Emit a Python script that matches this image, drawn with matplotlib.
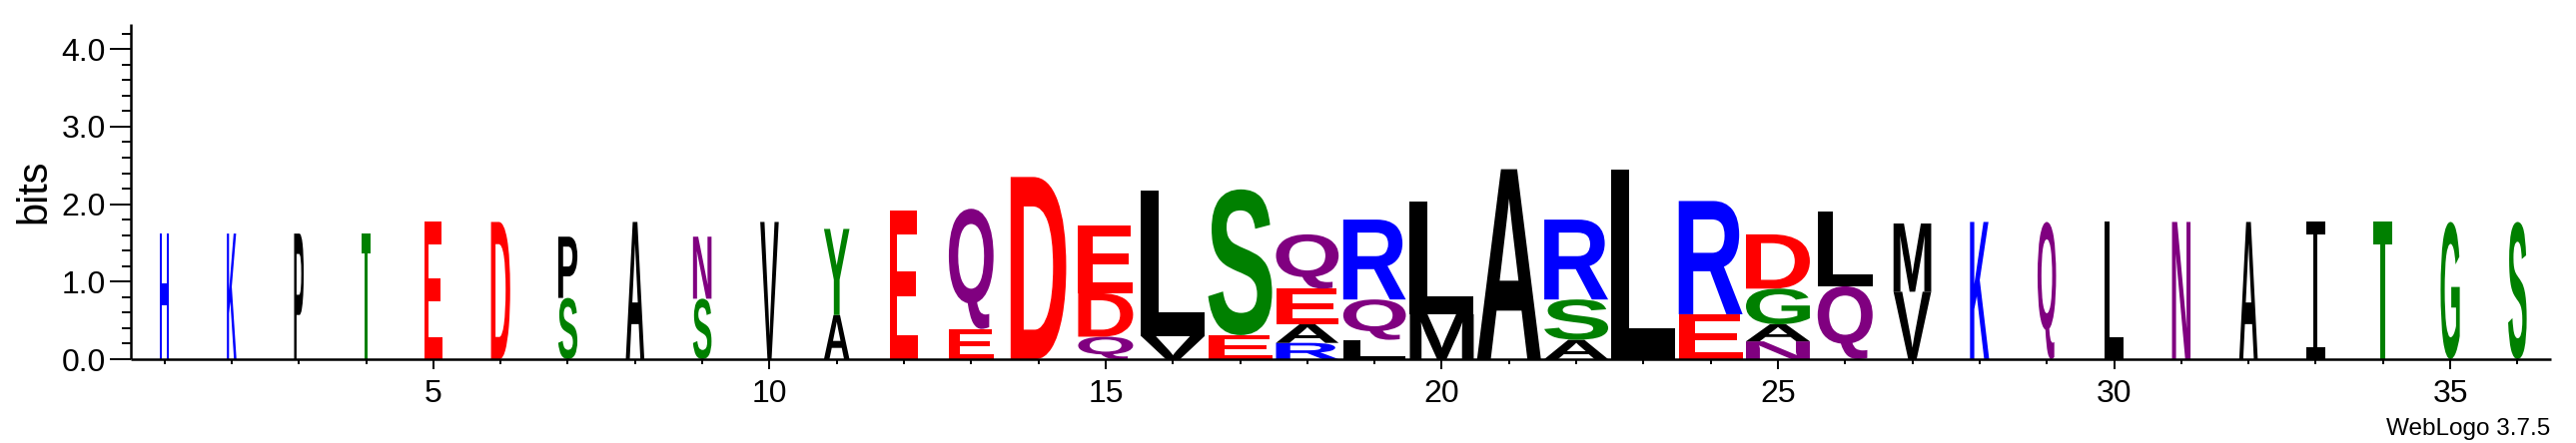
import matplotlib
matplotlib.use("Agg")
import matplotlib.pyplot as plt
from matplotlib.textpath import TextPath
from matplotlib.font_manager import FontProperties
from matplotlib.patches import PathPatch
from matplotlib.path import Path
from matplotlib.transforms import Affine2D
from matplotlib.ticker import MultipleLocator, FixedLocator, FormatStrFormatter

plt.rcParams['font.family'] = ['Liberation Sans', 'DejaVu Sans']

# ---- data: stacks listed bottom -> top ----
positions = list(range(1, 37))
stack_letters = [
    "H", "K", "P", "T", "E", "D", "SP", "A", "SN", "V",
    "AY", "E", "EQ", "D", "QDE", "VL", "ES", "RAEQ", "LQR", "ML",
    "A", "ASR", "L", "ER", "NAGD", "QL", "VM", "K", "Q", "L",
    "N", "A", "I", "T", "G", "S",
]
stack_heights = [
    [1.62], [1.62], [1.62], [1.62], [1.77], [1.77], [0.79, 0.79], [1.77], [0.78, 0.80], [1.77],
    [0.57, 1.11], [1.92], [0.39, 1.55], [2.35], [0.29, 0.56, 0.87], [0.30, 1.88], [0.31, 1.88],
    [0.21, 0.24, 0.46, 0.70], [0.25, 0.52, 1.03], [0.58, 1.45],
    [2.45], [0.25, 0.52, 1.03], [2.45], [0.58, 1.46], [0.23, 0.22, 0.46, 0.70], [0.94, 0.96],
    [0.87, 0.88], [1.77], [1.77], [1.77], [1.77], [1.77], [1.77], [1.77], [1.77], [1.77],
]
stack_width_frac = [
    0.15, 0.15, 0.15, 0.15, 0.29, 0.30, 0.30, 0.29, 0.29, 0.29,
    0.40, 0.44, 0.70, 0.87, 0.86, 1.0, 1.0, 0.98, 0.98, 1.0,
    1.0, 1.0, 1.0, 1.0, 1.0, 0.86, 0.59, 0.30, 0.29, 0.29,
    0.29, 0.29, 0.29, 0.29, 0.30, 0.29,
]
x_tick_labels = [5, 10, 15, 20, 25, 30, 35]
y_tick_labels = [0.0, 1.0, 2.0, 3.0, 4.0]

colors = {}
for c in "GSTYC":
    colors[c] = "#008000"
for c in "NQ":
    colors[c] = "#800080"
for c in "KRH":
    colors[c] = "#0000FF"
for c in "DE":
    colors[c] = "#FF0000"

FULL_W = 0.95
glyph_font = FontProperties(family="Liberation Sans", weight="bold")


def glyph_path(ch):
    if ch == "I":
        # serifed capital I
        bw, bh, sw = 1.0, 0.09, 0.22
        verts = [(0, 0), (bw, 0), (bw, bh), (0.5 + sw / 2, bh), (0.5 + sw / 2, 1 - bh),
                 (bw, 1 - bh), (bw, 1), (0, 1), (0, 1 - bh), (0.5 - sw / 2, 1 - bh),
                 (0.5 - sw / 2, bh), (0, bh), (0, 0)]
        codes = [Path.MOVETO] + [Path.LINETO] * 11 + [Path.CLOSEPOLY]
        return Path(verts, codes)
    return TextPath((0, 0), ch, size=1, prop=glyph_font)


def letter_patch(ch, xc, y0, w, h, color):
    p = glyph_path(ch)
    bb = p.get_extents()
    tr = (Affine2D().translate(-bb.x0, -bb.y0)
          .scale(w / bb.width, h / bb.height)
          .translate(xc - w / 2, y0))
    return PathPatch(tr.transform_path(p), facecolor=color, edgecolor="none", lw=0)


fig = plt.figure(figsize=(25.79, 4.44), dpi=100)
ax = fig.add_axes([131 / 2579, 84 / 444, 2423 / 2579, 335.7 / 444])

for pos, letters, heights, wf in zip(positions, stack_letters, stack_heights, stack_width_frac):
    y = 0.0
    for ch, h in zip(letters, heights):
        ax.add_patch(letter_patch(ch, pos, y, FULL_W * wf, h, colors.get(ch, "black")))
        y += h

ax.set_xlim(0.5, 36.5)
ax.set_ylim(0, 4.32)

for s in ("top", "right"):
    ax.spines[s].set_visible(False)
for s in ("left", "bottom"):
    ax.spines[s].set_linewidth(1.8)
    ax.spines[s].set_capstyle("butt")

ax.xaxis.set_major_locator(FixedLocator(x_tick_labels))
ax.xaxis.set_minor_locator(FixedLocator(positions))
ax.yaxis.set_major_locator(FixedLocator(y_tick_labels))
ax.yaxis.set_minor_locator(MultipleLocator(0.2))
ax.yaxis.set_major_formatter(FormatStrFormatter("%.1f"))

ax.tick_params(axis="x", which="major", direction="out", length=7.5, width=1.4, labelsize=23, pad=7)
ax.tick_params(axis="x", which="minor", direction="out", length=3.6, width=1.4)
ax.tick_params(axis="y", which="major", direction="out", length=15, width=1.4, labelsize=23, pad=3)
ax.tick_params(axis="y", which="minor", direction="out", length=6.7, width=1.4)

ax.set_ylabel("bits", fontsize=30, va="center")
ax.yaxis.set_label_coords((34.5 - 131) / 2423, 0.5)

fig.text(2553 / 2579, 8 / 444, "WebLogo 3.7.5", ha="right", va="baseline", fontsize=17.5)

fig.savefig("out.png", dpi=100)
